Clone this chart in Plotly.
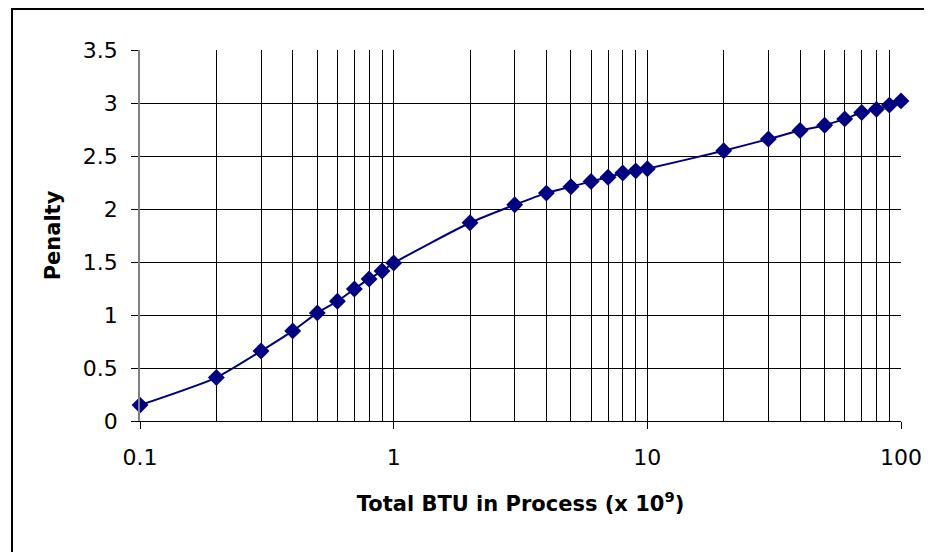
import plotly.graph_objects as go

btu = [0.1, 0.2, 0.3, 0.4, 0.5, 0.6, 0.7, 0.8, 0.9, 1,
       2, 3, 4, 5, 6, 7, 8, 9, 10,
       20, 30, 40, 50, 60, 70, 80, 90, 100]
penalty = [0.15, 0.41, 0.66, 0.85, 1.02, 1.13, 1.245, 1.34, 1.415, 1.49,
           1.87, 2.04, 2.15, 2.21, 2.26, 2.30, 2.34, 2.36, 2.38,
           2.55, 2.66, 2.74, 2.79, 2.85, 2.91, 2.94, 2.98, 3.02]
major_ticks = [0.1, 1, 10, 100]
major_labels = ["0.1", "1", "10", "100"]
minor_ticks = [v for v in btu if v not in major_ticks]
y_ticks = [0, 0.5, 1, 1.5, 2, 2.5, 3, 3.5]
y_labels = ["0", "0.5", "1", "1.5", "2", "2.5", "3", "3.5"]

FONT = "DejaVu Sans"

fig = go.Figure()
fig.add_trace(go.Scatter(
    x=btu, y=penalty, mode="lines+markers",
    line=dict(color="#000080", width=2, shape="spline", smoothing=0.6),
    marker=dict(symbol="diamond", size=13, color="#000080"),
    cliponaxis=False,
    showlegend=False,
))

fig.update_layout(
    width=932, height=552,
    margin=dict(l=132, r=39, t=42, b=139),
    paper_bgcolor="white", plot_bgcolor="white",
    font=dict(family=FONT, color="black", size=20),
    xaxis=dict(
        type="log", range=[-1, 2], automargin=False,
        tickmode="array", tickvals=major_ticks, ticktext=major_labels,
        ticks="outside", ticklen=7, tickcolor="black",
        tickfont=dict(size=22, family=FONT, color="black"),
        ticklabelstandoff=10,
        showgrid=True, gridcolor="black", gridwidth=1,
        minor=dict(tickvals=minor_ticks, showgrid=True, gridcolor="black",
                   gridwidth=1, ticks=""),
        showline=True, linecolor="black", linewidth=1,
        zeroline=False,
        title=dict(text="<b>Total BTU in Process (x 10<sup>9</sup>)</b>",
                   font=dict(size=21, family=FONT, color="black"), standoff=26),
    ),
    yaxis=dict(
        range=[0, 3.5], automargin=False,
        tickmode="array", tickvals=y_ticks, ticktext=y_labels,
        ticks="outside", ticklen=7, tickcolor="black",
        tickfont=dict(size=22, family=FONT, color="black"),
        ticklabelstandoff=9,
        showgrid=True, gridcolor="black", gridwidth=1,
        showline=True, linecolor="#808080", linewidth=1.5,
        zeroline=False,
        title=dict(text="<b>Penalty</b>",
                   font=dict(size=21, family=FONT, color="black"),
                   standoff=16),
    ),
    shapes=[dict(type="rect", xref="paper", yref="paper",
                 x0=-128/761, x1=1.2, y0=-0.6, y1=1 + 41/371,
                 line=dict(color="black", width=2), layer="below")],
)

fig.write_html("out.html")
